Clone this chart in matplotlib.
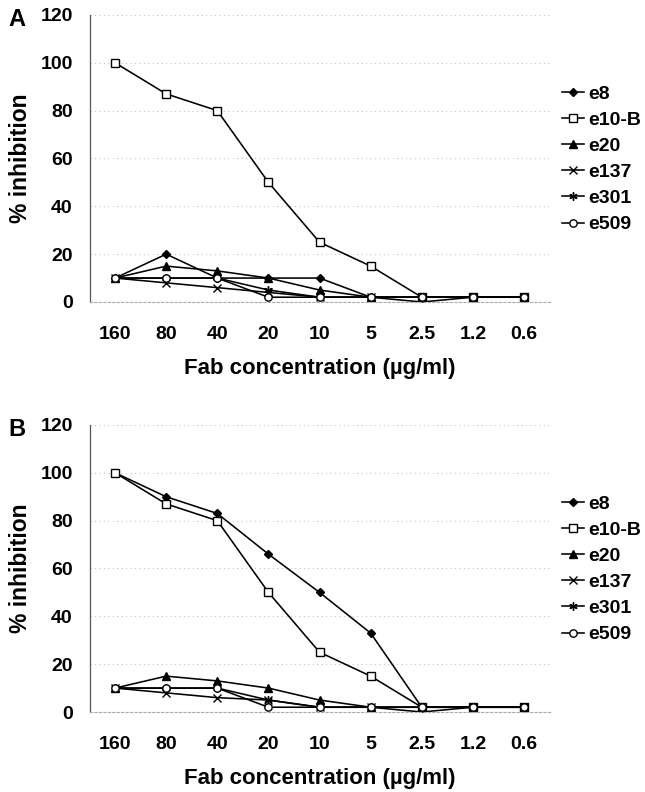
import matplotlib
matplotlib.use("Agg")
import matplotlib.pyplot as plt

plt.rcParams['font.family'] = ['Liberation Sans', 'DejaVu Sans']
plt.rcParams['font.weight'] = 'bold'

concentrations = ["160", "80", "40", "20", "10", "5", "2.5", "1.2", "0.6"]
series_names = ["e8", "e10-B", "e20", "e137", "e301", "e509"]

# Panel A values (% inhibition)
a_e8 = [10, 20, 10, 10, 10, 2, 2, 2, 2]
a_e10b = [100, 87, 80, 50, 25, 15, 2, 2, 2]
a_e20 = [10, 15, 13, 10, 5, 2, 2, 2, 2]
a_e137 = [10, 8, 6, 4, 2, 2, 0, 2, 2]
a_e301 = [10, 10, 10, 5, 2, 2, 2, 2, 2]
a_e509 = [10, 10, 10, 2, 2, 2, 2, 2, 2]

# Panel B values (% inhibition)
b_e8 = [100, 90, 83, 66, 50, 33, 2, 2, 2]
b_e10b = [100, 87, 80, 50, 25, 15, 2, 2, 2]
b_e20 = [10, 15, 13, 10, 5, 2, 2, 2, 2]
b_e137 = [10, 8, 6, 5, 2, 2, 0, 2, 2]
b_e301 = [10, 10, 10, 5, 2, 2, 2, 2, 2]
b_e509 = [10, 10, 10, 2, 2, 2, 2, 2, 2]

styles = [
    dict(marker='D', markersize=4, markerfacecolor='black', markeredgecolor='black'),
    dict(marker='s', markersize=5.3, markerfacecolor='white', markeredgecolor='black', markeredgewidth=1.0),
    dict(marker='^', markersize=5.3, markerfacecolor='black', markeredgecolor='black'),
    dict(marker='x', markersize=5.3, markeredgecolor='black', markeredgewidth=1.0),
    dict(marker=(6, 2, 0), markersize=6, markeredgecolor='black', markeredgewidth=1.0),
    dict(marker='o', markersize=5.3, markerfacecolor='white', markeredgecolor='black', markeredgewidth=1.0),
]

fig = plt.figure(figsize=(6.45, 7.92), dpi=100)
axA = fig.add_axes([0.1388, 0.6187, 0.7132, 0.3624])
axB = fig.add_axes([0.1388, 0.1010, 0.7132, 0.3624])

def draw(ax, data, letter):
    x = list(range(len(concentrations)))
    handles = []
    for name, vals, st in zip(series_names, data, styles):
        h, = ax.plot(x, vals, color='black', linewidth=1.15, label=name, **st)
        handles.append(h)
    ax.set_xlim(-0.5, len(concentrations) - 0.5)
    ax.set_ylim(0, 120)
    ax.set_yticks(range(0, 121, 20))
    ax.set_xticks(x)
    ax.set_xticklabels(concentrations)
    ax.tick_params(axis='x', length=0, pad=17, labelsize=14)
    ax.tick_params(axis='y', length=0, pad=12, labelsize=14)
    ax.yaxis.grid(True, color='#c4c4c4', linestyle=(0, (1, 3)), linewidth=0.8)
    ax.set_axisbelow(True)
    for s in ['top', 'right']:
        ax.spines[s].set_visible(False)
    ax.spines['left'].set_color('#555555')
    ax.spines['left'].set_linewidth(0.9)
    ax.spines['bottom'].set_color('#aaaaaa')
    ax.spines['bottom'].set_linestyle((0, (2, 2)))
    ax.spines['bottom'].set_linewidth(0.8)
    ax.set_ylabel('% inhibition', fontsize=16.5, fontweight='bold', labelpad=6)
    ax.set_xlabel('Fab concentration (\u00b5g/ml)', fontsize=16, fontweight='bold', labelpad=11)
    ax.text(-0.158, 0.985, letter, transform=ax.transAxes, fontsize=17, fontweight='bold',
            va='center', ha='center')
    leg = ax.legend(handles=handles, loc='upper left', bbox_to_anchor=(1.027, 0.756),
                    frameon=False, fontsize=14, handlelength=1.15, handletextpad=0.2,
                    labelspacing=0.44, borderaxespad=0, borderpad=0)
    for t in leg.get_texts():
        t.set_fontweight('bold')

draw(axA, [a_e8, a_e10b, a_e20, a_e137, a_e301, a_e509], 'A')
draw(axB, [b_e8, b_e10b, b_e20, b_e137, b_e301, b_e509], 'B')

fig.savefig('out.png', dpi=100)
